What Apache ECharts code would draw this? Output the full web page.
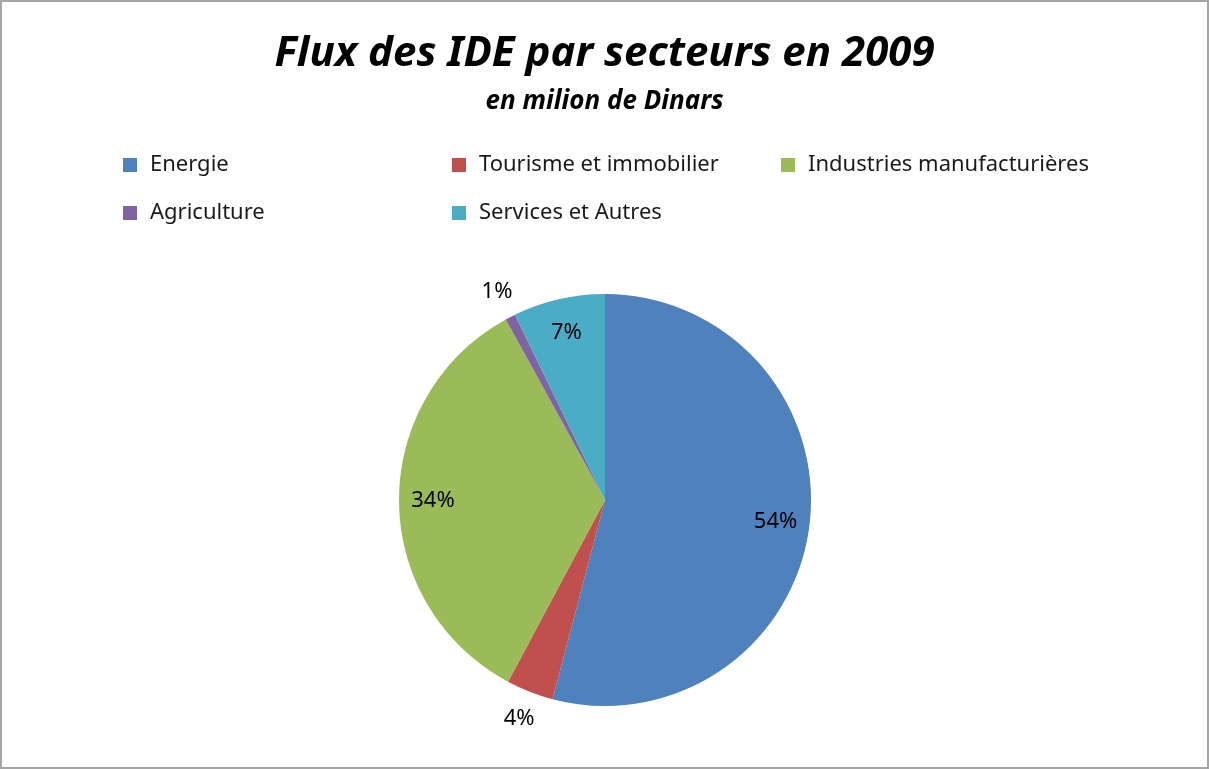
<!DOCTYPE html>
<html>
<head>
<meta charset="utf-8">
<script src="https://cdn.jsdelivr.net/npm/echarts@6/dist/echarts.min.js"></script>
<style>
  html, body { margin: 0; padding: 0; background: #fff; }
  #chart {
    width: 1209px;
    height: 769px;
    box-sizing: border-box;
    border: 2px solid #a6a6a6;
  }
</style>
</head>
<body>
<div id="chart"></div>
<script>
// secteurs et parts (en %)
const sectors = ["Energie", "Tourisme et immobilier", "Industries manufacturières", "Agriculture", "Services et Autres"];
const shares = [54.1, 3.7, 34.2, 0.8, 7.2];
const colors = ["#4F81BD", "#C0504D", "#9BBB59", "#8064A2", "#4BACC6"];
// libellés dedans / dehors comme dans Excel
const outsideLabels = ["Tourisme et immobilier", "Agriculture"];

const chart = echarts.init(document.getElementById("chart"));

const pieData = sectors.map((name, i) => ({
  name: name,
  value: shares[i],
  itemStyle: { color: colors[i] }
}));

const labelText = p => Math.round(p.percent) + "%";

// series transparentes, seulement pour placer les pourcentages
function labelSeries(radius, names) {
  return {
    type: "pie",
    center: [603, 498],
    radius: radius,
    startAngle: 90,
    silent: true,
    animation: false,
    emphasis: { disabled: true },
    itemStyle: { color: "transparent", borderWidth: 0 },
    labelLine: { show: false },
    data: sectors.map((name, i) => ({
      name: name,
      value: shares[i],
      label: { show: names.indexOf(name) >= 0 }
    })),
    label: {
      position: "inside",
      formatter: labelText,
      color: "#000",
      fontSize: 22,
      fontFamily: "Noto Sans"
    }
  };
}

chart.setOption({
  animation: false,
  title: {
    text: "Flux des IDE par secteurs en 2009",
    subtext: "en milion de Dinars",
    left: "center",
    top: 26,
    itemGap: 14,
    textStyle: {
      fontFamily: "Noto Sans",
      fontStyle: "italic",
      fontWeight: "bold",
      fontSize: 42,
      color: "#000"
    },
    subtextStyle: {
      fontFamily: "Noto Sans",
      fontStyle: "italic",
      fontWeight: "bold",
      fontSize: 26,
      color: "#000"
    }
  },
  legend: {
    data: sectors,
    left: 116,
    top: 140,
    width: 1040,
    icon: "rect",
    itemWidth: 14,
    itemHeight: 14,
    itemGap: 12,
    selectedMode: false,
    textStyle: {
      fontFamily: "Noto Sans",
      fontSize: 22,
      color: "#1a1a1a",
      width: 290,
      padding: [0, 0, 0, 8],
      lineHeight: 36
    }
  },
  series: [
    {
      type: "pie",
      center: [603, 498],
      radius: [0, 206],
      startAngle: 90,
      clockwise: true,
      silent: true,
      itemStyle: { borderWidth: 0 },
      label: { show: false },
      labelLine: { show: false },
      data: pieData
    },
    labelSeries([0, 338], sectors.filter(s => outsideLabels.indexOf(s) < 0)),
    labelSeries([0, 464], outsideLabels)
  ]
});
</script>
</body>
</html>
